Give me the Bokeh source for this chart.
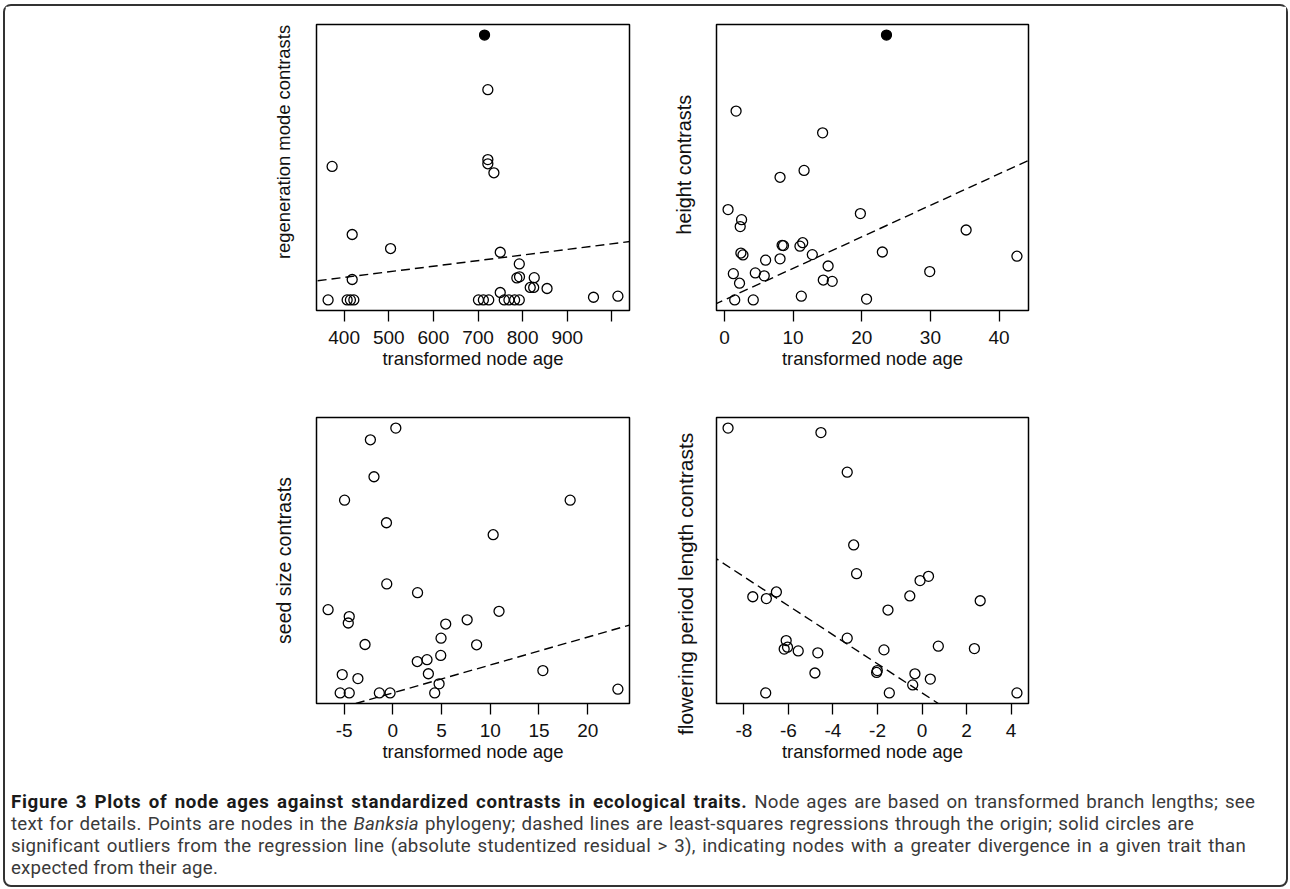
import numpy as np
from bokeh.plotting import figure
from bokeh.models import Range1d, FixedTicker, Slope, Div
from bokeh.layouts import column, row
from bokeh.embed import file_html
from bokeh.resources import INLINE

# ---------------- data ----------------
# Panel A: regeneration mode contrasts vs transformed node age
regen_x = [722, 373, 722, 722, 735.6, 418, 504, 749.8, 792.5, 418, 787, 793, 826, 817,
           824.7, 854.7, 749.8, 958.8, 1013.5, 364, 406.7, 414, 421.7, 701, 712, 724,
           758.8, 769.3, 782, 792.5]
regen_y = [79.4, 50.4, 53.0, 51.4, 48.0, 24.7, 19.4, 18.0, 13.6, 7.7, 8.3, 8.7, 8.4, 4.7,
           4.7, 4.3, 2.8, 1.0, 1.4, 0, 0, 0, 0, 0, 0, 0, 0, 0, 0, 0]
regen_out_x = [714.6]
regen_out_y = [100.0]

# Panel B: height contrasts
height_x = [1.7, 14.3, 8.1, 11.6, 0.53, 2.5, 2.3, 19.8, 35.2, 8.4, 8.6, 11.0, 11.4, 12.8,
            2.4, 2.7, 23.0, 6.0, 8.1, 42.6, 15.1, 1.3, 4.5, 5.8, 2.2, 14.4, 15.7, 29.9,
            1.5, 4.2, 11.2, 20.7]
height_y = [71.3, 63.1, 46.3, 48.9, 34.1, 30.3, 27.7, 32.6, 26.4, 20.6, 20.5, 20.3, 21.6,
            17.1, 17.7, 17.0, 18.1, 15.0, 15.5, 16.5, 12.8, 9.9, 10.2, 9.1, 6.3, 7.5, 7.0,
            10.7, 0.0, 0.0, 1.4, 0.3]
height_out_x = [23.6]
height_out_y = [100.0]

# Panel C: seed size contrasts
seed_x = [0.31, -2.3, -1.93, -4.95, 18.2, -0.65, 10.3, -0.62, 2.54, -6.64, -4.47, -4.57,
          10.9, 7.63, 5.43, 4.95, -2.85, 8.6, 4.92, 2.51, 3.51, -5.19, -3.58, 3.65, 15.4,
          4.75, 23.1, -5.4, -4.47, -1.38, -0.28, 4.3]
seed_y = [99.6, 95.2, 81.3, 72.5, 72.5, 64.0, 59.5, 41.0, 37.7, 31.3, 28.7, 26.3, 30.7,
          27.5, 25.9, 20.6, 18.2, 18.1, 14.1, 11.8, 12.5, 6.9, 5.4, 7.2, 8.4, 3.4, 1.4,
          0, 0, 0, 0, 0]

# Panel D: flowering period length contrasts
flower_x = [-8.71, -4.54, -3.36, -3.07, -2.94, -0.09, 0.29, -0.55, 2.61, -7.6, -6.99,
            -6.54, -1.53, -3.36, -6.1, -6.19, -6.04, -5.56, -4.68, -1.71, 0.73, 2.35,
            -4.81, -2.04, -2.01, -0.32, 0.37, -0.42, -7.02, -1.47, 4.26]
flower_y = [99.7, 98.0, 83.1, 55.7, 44.9, 42.3, 43.9, 36.5, 34.7, 36.2, 35.5, 38.0, 31.2,
            20.6, 19.7, 16.5, 17.2, 15.8, 15.1, 16.2, 17.6, 16.7, 7.5, 7.7, 8.4, 7.2, 5.2,
            3.0, 0, 0, 0]

# regression-through-origin slopes (as drawn)
slopes = [0.0212, 1.19, 1.05, -5.47]

# tick values
regen_ticks = [400, 500, 600, 700, 800, 900, 1000]
height_ticks = [0, 10, 20, 30, 40]
seed_ticks = [-5, 0, 5, 10, 15, 20]
flower_ticks = [-8, -6, -4, -2, 0, 2, 4]

ylabels = ["regeneration mode contrasts", "height contrasts",
           "seed size contrasts", "flowering period length contrasts"]
xlabel = "transformed node age"

caption_title = ("Figure 3 Plots of node ages against standardized contrasts in "
                 "ecological traits.")
caption_lines = [
    " Node ages are based on transformed branch lengths; see",
    "text for details. Points are nodes in the <i>Banksia</i> phylogeny; dashed lines are "
    "least-squares regressions through the origin; solid circles are",
    "significant outliers from the regression line (absolute studentized residual &gt; 3), "
    "indicating nodes with a greater divergence in a given trait than",
    "expected from their age.",
]

FONT = "Liberation Sans"
FS = "18.5px"
NB = "\u00a0"


def rng(vals):
    lo, hi = float(np.min(vals)), float(np.max(vals))
    pad = 0.04 * (hi - lo)
    return Range1d(lo - pad, hi + pad)


def panel(xs, ys, oxs, oys, slope, ticks, ylab, width, height, mbl, mbr, mbt, mbb,
          hidden=(), ylab_size=FS, ylab_standoff=23):
    allx = list(xs) + list(oxs)
    ally = list(ys) + list(oys)
    p = figure(width=width, height=height, output_backend="svg", toolbar_location=None,
               x_range=rng(allx), y_range=rng(ally),
               min_border_left=mbl, min_border_right=mbr,
               min_border_top=mbt, min_border_bottom=mbb)
    p.grid.visible = False
    p.background_fill_color = "white"
    p.border_fill_color = "white"
    p.outline_line_color = "black"
    p.outline_line_width = 1.5

    p.scatter(xs, ys, marker="circle", size=10, fill_color=None,
              line_color="black", line_width=1.3)
    if oxs:
        p.scatter(oxs, oys, marker="circle", size=10, fill_color="black",
                  line_color="black", line_width=1.3)
    p.add_layout(Slope(gradient=slope, y_intercept=0, line_color="black",
                       line_dash="9 5", line_width=1.4))

    xa = p.xaxis[0]
    xa.ticker = FixedTicker(ticks=ticks)
    # plain hyphen-minus labels as in the original; hide labels R dropped
    xa.major_label_overrides = {t: ("" if t in hidden else str(t)) for t in ticks}
    xa.axis_line_color = None
    xa.major_tick_in = 0
    xa.major_tick_out = 11
    xa.major_tick_line_color = "black"
    xa.major_tick_line_width = 1.3
    xa.minor_tick_line_color = None
    xa.major_label_text_font = FONT
    xa.major_label_text_font_size = "19px"
    xa.major_label_text_color = "#111111"
    xa.major_label_standoff = 9
    xa.axis_label = xlabel
    xa.axis_label_text_font = FONT
    xa.axis_label_text_font_size = FS
    xa.axis_label_text_font_style = "normal"
    xa.axis_label_text_color = "#111111"
    xa.axis_label_standoff = 1

    ya = p.yaxis[0]
    ya.ticker = FixedTicker(ticks=[])
    ya.axis_line_color = None
    ya.major_tick_in = 0
    ya.major_tick_out = 0
    ya.major_tick_line_color = None
    ya.minor_tick_line_color = None
    ya.axis_label = ylab
    ya.axis_label_text_font = FONT
    ya.axis_label_text_font_size = ylab_size
    ya.axis_label_text_font_style = "normal"
    ya.axis_label_text_color = "#111111"
    ya.axis_label_standoff = ylab_standoff
    return p


# labels are not centred on the frames in the original: pad with no-break spaces
p1 = panel(regen_x, regen_y, regen_out_x, regen_out_y, slopes[0], regen_ticks,
           NB * 10 + ylabels[0], 626, 376, 311, 2, 18, 72, hidden=(1000,),
           ylab_size="18.4px", ylab_standoff=23)
p2 = panel(height_x, height_y, height_out_x, height_out_y, slopes[1], height_ticks,
           NB + ylabels[1], 655, 376, 85, 258, 18, 72,
           ylab_size="19.8px", ylab_standoff=22)
p3 = panel(seed_x, seed_y, [], [], slopes[2], seed_ticks, ylabels[2],
           626, 391, 311, 2, 35, 70, ylab_size="19.5px", ylab_standoff=22)
p4 = panel(flower_x, flower_y, [], [], slopes[3], flower_ticks,
           ylabels[3] + NB * 8, 655, 391, 85, 258, 35, 70,
           ylab_size="21px", ylab_standoff=20)

line_widths = [1244, 1183, 1235]
rows = []
rows.append(
    f"<div style='width:{line_widths[0]}px;height:22px;text-align:justify;"
    f"text-align-last:justify'><b style='color:#1a1a1a;letter-spacing:0.7px'>"
    f"{caption_title}</b>{caption_lines[0]}</div>")
for txt, w in zip(caption_lines[1:3], line_widths[1:]):
    rows.append(f"<div style='width:{w}px;height:22px;text-align:justify;"
                f"text-align-last:justify'>{txt}</div>")
rows.append(f"<div style='height:22px'>{caption_lines[3]}</div>")
caption = ("<div style=\"font-family:Roboto,sans-serif;font-size:18.7px;line-height:22px;"
           "letter-spacing:0.2px;color:#3a3a3a;padding:18px 0 0 6px;\">"
           + "".join(rows) + "</div>")
cap = Div(text=caption, width=1281, height=112, margin=0)

layout = column(row(p1, p2), row(p3, p4), cap, margin=(4, 0, 0, 3),
                styles={"border": "2px solid #333333", "border-radius": "8px",
                        "background-color": "white"})

open("out.html", "w").write(file_html(layout, INLINE))
